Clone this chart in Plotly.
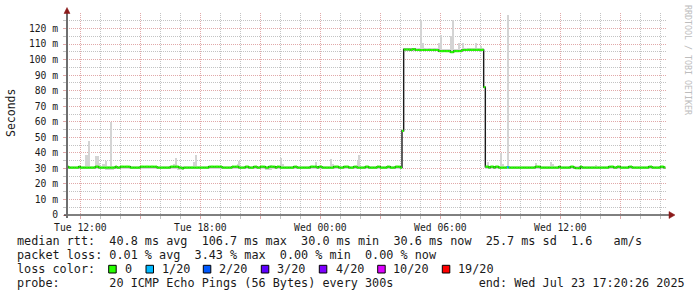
import datetime as dt
import plotly.graph_objects as go

# ---------------- data ----------------
START = "2025-07-22 11:20:00"
STEP_MIN = 5
RANGE_HOURS = 30

MEDIAN = [
    31.1, 30.5, 30.5, 30.5, 30.5, 30.5, 30.5, 31.1, 30.5, 30.5, 30.5, 30.5,
    30.5, 30.5, 30.5, 30.5, 30.5, 31.1, 31.1, 30.5, 30.5, 30.5, 30.5, 30.5,
    30.5, 30.5, 30.5, 30.5, 30.5, 31.1, 30.5, 30.5, 31.1, 31.1, 31.1, 31.1,
    31.1, 31.1, 30.5, 30.5, 30.5, 30.5, 30.5, 30.5, 31.1, 31.1, 31.1, 31.1,
    31.1, 31.1, 31.1, 31.1, 31.1, 31.1, 30.5, 30.5, 30.5, 30.5, 30.5, 30.5,
    30.5, 30.5, 31.1, 31.1, 31.1, 31.1, 31.1, 30.5, 30.5, 30.0, 30.5, 30.5,
    30.5, 30.5, 30.5, 30.5, 30.5, 30.5, 30.5, 30.5, 30.5, 30.5, 30.5, 30.5,
    30.5, 31.1, 31.1, 31.1, 31.1, 31.1, 31.1, 31.1, 31.1, 30.5, 30.5, 30.5,
    30.5, 30.5, 30.5, 31.1, 31.1, 31.1, 31.1, 30.5, 30.5, 30.5, 30.5, 31.1,
    31.1, 30.5, 30.5, 30.5, 31.1, 31.1, 30.5, 30.5, 31.1, 31.1, 31.1, 30.5,
    30.5, 31.1, 31.1, 31.1, 31.1, 30.5, 31.1, 31.1, 30.5, 30.5, 30.5, 30.5,
    30.5, 30.5, 30.5, 30.5, 31.1, 31.1, 30.5, 30.5, 30.5, 30.5, 30.5, 30.5,
    30.5, 30.5, 31.1, 31.1, 31.1, 31.1, 30.5, 31.1, 31.1, 30.5, 30.5, 30.5,
    30.5, 30.5, 30.5, 30.5, 31.1, 31.1, 31.1, 30.5, 30.5, 30.5, 31.1, 31.1,
    31.1, 30.5, 30.5, 30.5, 31.1, 31.1, 30.5, 30.5, 30.5, 30.5, 30.5, 31.1,
    31.1, 30.5, 30.5, 30.5, 30.5, 30.5, 31.1, 31.1, 30.5, 30.5, 30.5, 30.5,
    31.1, 31.1, 30.5, 30.5, 30.5, 31.1, 31.1, 31.1, 30.5, 54.2, 106.5, 106.5,
    106.5, 106.5, 106.2, 106.7, 106.7, 106.2, 106.2, 106.2, 106.2, 106.2, 106.2, 106.2,
    106.2, 106.2, 106.2, 106.2, 106.2, 106.2, 106.2, 105.5, 105.5, 105.5, 105.5, 105.5,
    105.5, 105.5, 104.8, 104.8, 105.5, 105.5, 105.5, 105.5, 105.5, 106.2, 106.2, 106.2,
    106.3, 106.3, 106.3, 106.3, 106.3, 106.3, 106.3, 106.3, 106.3, 106.3, 82.3, 31.1,
    31.1, 30.5, 31.1, 31.1, 30.5, 31.1, 31.1, 30.5, 30.5, 30.5, 30.5, 30.5,
    30.8, 30.5, 30.5, 30.5, 30.5, 30.5, 30.5, 30.5, 30.5, 30.5, 30.5, 30.5,
    30.5, 30.5, 30.5, 30.5, 30.5, 31.1, 31.1, 31.1, 30.5, 30.5, 30.5, 30.5,
    30.5, 30.5, 30.5, 30.5, 30.5, 30.5, 30.5, 31.1, 30.5, 30.5, 30.5, 30.5,
    30.5, 30.5, 31.1, 31.1, 30.5, 30.1, 30.1, 30.1, 31.1, 30.5, 30.5, 30.5,
    30.5, 30.5, 30.5, 30.5, 30.5, 30.5, 30.5, 30.5, 30.5, 30.5, 30.5, 30.5,
    30.5, 31.1, 31.1, 31.1, 30.5, 30.5, 31.1, 31.1, 30.5, 30.5, 30.5, 30.5,
    30.5, 31.1, 31.1, 30.5, 30.5, 30.5, 30.5, 30.5, 30.5, 30.5, 30.5, 30.5,
    30.5, 31.1, 31.1, 30.5, 30.5, 30.5, 30.5, 30.5, 31.1, 31.1, 30.6,
]

SMOKE_HI = [
    31.8, 31.8, 31.8, 31.8, 31.8, 31.8, 31.8, 31.8, 31.8, 31.8, 31.8, 38.5,
    38.5, 47.5, 31.8, 31.8, 31.8, 38.0, 38.0, 33.7, 31.8, 33.0, 33.0, 35.0,
    31.8, 31.8, 60.0, 31.8, 31.8, 31.8, 31.8, 31.8, 31.8, 31.8, 31.8, 31.8,
    31.8, 31.8, 31.8, 31.8, 31.8, 31.8, 31.8, 31.8, 31.8, 31.8, 31.8, 31.8,
    31.8, 31.8, 31.8, 31.8, 31.8, 31.8, 31.8, 31.8, 31.8, 31.8, 31.8, 31.8,
    31.8, 31.8, 31.8, 31.8, 33.0, 36.5, 31.8, 31.8, 31.8, 31.8, 31.8, 31.8,
    31.8, 31.8, 31.8, 31.8, 34.0, 38.5, 31.8, 31.8, 31.8, 31.8, 31.8, 31.8,
    31.8, 31.8, 31.8, 31.8, 31.8, 31.8, 31.8, 31.8, 31.8, 31.8, 31.8, 31.8,
    31.8, 31.8, 31.8, 31.8, 31.8, 31.8, 33.0, 35.0, 31.8, 31.8, 31.8, 31.8,
    31.8, 31.8, 31.8, 31.8, 31.8, 31.8, 31.8, 31.8, 31.8, 31.8, 31.8, 31.8,
    31.8, 31.8, 32.5, 31.8, 31.8, 31.8, 31.8, 31.8, 36.7, 33.0, 31.8, 31.8,
    31.8, 31.8, 31.8, 31.8, 31.8, 31.8, 31.8, 31.8, 31.8, 31.8, 31.8, 31.8,
    31.8, 31.8, 31.8, 31.8, 31.8, 34.0, 31.8, 31.8, 31.8, 31.8, 31.8, 31.8,
    31.8, 31.8, 36.0, 33.0, 31.8, 31.8, 31.8, 31.8, 31.8, 31.8, 31.8, 31.8,
    31.8, 31.8, 31.8, 31.8, 31.8, 31.8, 35.0, 38.5, 31.8, 31.8, 31.8, 31.8,
    31.8, 31.8, 31.8, 31.8, 31.8, 31.8, 31.8, 31.8, 31.8, 31.8, 31.8, 31.8,
    31.8, 31.8, 31.8, 31.8, 31.8, 31.8, 31.8, 31.8, 31.8, 54.8, 107.4, 107.4,
    107.4, 107.4, 107.4, 107.4, 107.4, 107.4, 107.4, 107.4, 125.5, 111.0, 107.4, 107.4,
    107.4, 107.4, 107.4, 107.4, 107.4, 107.4, 107.4, 110.5, 115.8, 107.0, 107.0, 107.0,
    107.0, 107.0, 115.0, 125.5, 107.0, 107.0, 107.0, 110.6, 107.0, 110.6, 107.4, 107.4,
    107.4, 107.4, 107.4, 107.4, 107.4, 110.6, 107.4, 107.4, 108.7, 107.4, 82.9, 31.8,
    34.0, 31.8, 31.8, 31.8, 31.8, 31.8, 31.8, 31.8, 40.0, 33.0, 31.8, 31.8,
    128.7, 31.8, 31.8, 31.8, 31.8, 31.8, 31.8, 31.8, 31.8, 31.8, 31.8, 31.8,
    31.8, 31.8, 31.8, 31.8, 31.8, 33.5, 31.8, 31.8, 31.8, 31.8, 31.8, 31.8,
    31.8, 31.8, 34.0, 33.0, 31.8, 31.8, 31.8, 31.8, 31.8, 31.8, 31.8, 31.8,
    31.8, 31.8, 31.8, 31.8, 31.8, 31.8, 31.8, 31.8, 31.8, 31.8, 31.8, 31.8,
    31.8, 31.8, 31.8, 31.8, 31.8, 32.5, 31.8, 31.8, 31.8, 31.8, 31.8, 31.8,
    31.8, 31.8, 31.8, 31.8, 31.8, 31.8, 31.8, 31.8, 31.8, 31.8, 31.8, 31.8,
    31.8, 31.8, 31.8, 31.8, 31.8, 31.8, 31.8, 31.8, 31.8, 31.8, 31.8, 31.8,
    31.8, 31.8, 31.8, 31.8, 31.8, 31.8, 31.8, 31.8, 31.8, 31.8, 31.8,
]

SMOKE_LO = [
    29.9, 29.9, 29.9, 29.9, 29.9, 29.9, 29.9, 29.9, 29.9, 29.9, 29.9, 29.9,
    29.9, 29.9, 29.9, 29.9, 29.9, 29.9, 29.9, 29.9, 29.9, 29.9, 29.9, 29.2,
    29.2, 29.2, 29.2, 29.2, 29.9, 29.9, 29.9, 29.9, 29.9, 29.9, 29.9, 29.9,
    29.9, 29.9, 29.9, 29.9, 29.9, 29.9, 29.9, 29.9, 29.9, 29.9, 29.9, 29.9,
    29.9, 29.9, 29.9, 29.9, 29.9, 29.9, 29.9, 29.9, 29.9, 29.9, 29.9, 29.9,
    29.9, 29.9, 29.9, 29.9, 29.9, 29.9, 29.0, 29.0, 29.0, 29.0, 29.9, 29.9,
    29.9, 29.9, 29.9, 29.9, 29.9, 29.9, 29.9, 29.9, 29.9, 29.9, 29.9, 29.9,
    29.9, 29.9, 29.9, 29.9, 29.9, 29.9, 29.9, 29.9, 29.9, 29.9, 29.9, 29.9,
    29.9, 29.9, 29.9, 29.9, 29.9, 29.9, 29.9, 29.9, 29.9, 29.9, 29.9, 29.9,
    29.9, 29.9, 29.9, 29.9, 29.9, 29.9, 29.9, 29.9, 29.9, 29.9, 29.9, 29.0,
    29.0, 29.0, 29.0, 29.9, 29.9, 29.9, 29.9, 29.9, 29.9, 29.9, 29.9, 29.9,
    29.9, 29.9, 29.9, 29.9, 29.9, 29.9, 29.9, 29.9, 29.9, 29.9, 29.9, 29.9,
    29.9, 29.9, 29.9, 29.9, 29.9, 29.9, 29.9, 29.9, 29.9, 29.9, 29.9, 29.9,
    29.9, 29.9, 29.9, 29.9, 29.9, 29.9, 29.9, 29.9, 29.9, 29.9, 29.9, 29.9,
    29.9, 29.9, 29.9, 29.9, 29.9, 29.9, 29.9, 29.9, 29.9, 29.9, 29.9, 29.9,
    29.9, 29.9, 29.9, 29.9, 29.9, 29.9, 29.9, 29.9, 29.9, 29.9, 29.9, 29.9,
    29.9, 29.9, 29.9, 29.9, 29.9, 29.9, 29.9, 29.9, 29.9, 53.8, 105.4, 105.4,
    105.4, 105.4, 105.4, 105.4, 105.4, 105.4, 105.4, 105.4, 105.4, 105.4, 105.4, 105.4,
    105.4, 105.4, 105.4, 105.4, 105.4, 105.4, 105.4, 104.6, 104.6, 104.6, 104.6, 104.6,
    104.6, 104.6, 104.0, 104.0, 104.6, 104.6, 104.6, 104.6, 104.6, 105.4, 105.4, 105.4,
    105.4, 105.4, 105.4, 105.4, 105.4, 105.4, 105.4, 105.4, 105.4, 105.4, 81.8, 29.9,
    29.9, 29.9, 29.9, 29.9, 29.9, 29.9, 29.9, 29.9, 29.9, 29.9, 29.9, 29.9,
    29.9, 29.9, 29.9, 29.9, 29.9, 29.9, 29.9, 29.9, 29.9, 29.9, 29.9, 29.9,
    29.9, 29.9, 29.9, 29.9, 29.9, 29.9, 29.9, 29.9, 29.9, 29.9, 29.9, 29.9,
    29.9, 29.9, 29.9, 29.9, 29.9, 29.3, 29.9, 29.9, 29.9, 29.9, 29.9, 29.9,
    29.9, 29.9, 29.9, 29.9, 29.9, 29.4, 29.4, 29.4, 29.9, 29.9, 29.9, 29.9,
    29.9, 29.9, 29.9, 29.9, 29.9, 29.9, 29.9, 29.9, 29.9, 29.9, 29.9, 29.9,
    29.9, 29.9, 29.9, 29.9, 29.9, 29.9, 29.9, 29.9, 29.9, 29.9, 29.9, 29.9,
    29.9, 29.9, 29.9, 29.9, 29.9, 29.9, 29.9, 29.9, 29.9, 29.9, 29.9, 29.9,
    29.9, 29.9, 29.9, 29.9, 29.9, 29.9, 29.9, 29.9, 29.9, 29.9, 29.9,
]

# steps with packet loss (pings lost out of 20)
LOSS_STEP = [264]
LOSS_PINGS = [1]

LOSS_LABELS = ["0", "1/20", "2/20", "3/20", "4/20", "10/20", "19/20"]
LOSS_THRESH = [0, 1, 2, 3, 4, 10, 19]
LOSS_COLORS = ["#26ff00", "#00b8ff", "#0059ff", "#5e00ff", "#7e00ff", "#dd00ff", "#ff0000"]

Y_TICKS = [0, 10, 20, 30, 40, 50, 60, 70, 80, 90, 100, 110, 120]
Y_TICK_TEXT = ["0", "10 m", "20 m", "30 m", "40 m", "50 m", "60 m", "70 m",
               "80 m", "90 m", "100 m", "110 m", "120 m"]
X_TICK_TEXT = ["Tue 12:00", "", "Tue 18:00", "", "Wed 00:00", "", "Wed 06:00", "", "Wed 12:00", ""]

ROW1 = "median rtt:  40.8 ms avg  106.7 ms max  30.0 ms min  30.6 ms now  25.7 ms sd  1.6   am/s"
ROW2 = "packet loss: 0.01 % avg  3.43 % max  0.00 % min  0.00 % now"
ROW3 = "loss color:"
ROW4 = "probe:       20 ICMP Echo Pings (56 Bytes) every 300s            end: Wed Jul 23 17:20:26 2025"
Y_TITLE = "Seconds"
WATERMARK = "RRDTOOL / TOBI OETIKER"

# ---------------- layout helpers ----------------
W, H = 697, 297
ML, MR, MT, MB = 67, 30, 13, 82
PW = W - ML - MR
PH = H - MT - MB
MONO = "DejaVu Sans Mono"


def px(x):
    return (x - ML) / PW


def py(y):
    return (H - MB - y) / PH


t0 = dt.datetime.fromisoformat(START)
step = dt.timedelta(minutes=STEP_MIN)
n = len(MEDIAN)
edges = [t0 + i * step for i in range(n + 1)]
centers = [t0 + (i + 0.5) * step for i in range(n)]
t_end = t0 + dt.timedelta(hours=RANGE_HOURS)

fig = go.Figure()

# smoke
fig.add_trace(go.Bar(
    x=centers, y=[h - l for h, l in zip(SMOKE_HI, SMOKE_LO)], base=SMOKE_LO,
    width=step.total_seconds() * 1000,
    marker=dict(color="#d4d4d4", line=dict(width=0)),
    hoverinfo="skip", showlegend=False,
))

# dark median step line
fig.add_trace(go.Scatter(
    x=edges, y=MEDIAN + [MEDIAN[-1]], mode="lines",
    line=dict(color="#1a1a1a", width=1.4, shape="hv"),
    hoverinfo="skip", showlegend=False,
))

# loss-coloured median segments
loss_of = dict(zip(LOSS_STEP, LOSS_PINGS))
seg = {k: ([], []) for k in range(len(LOSS_COLORS))}
for i in range(n):
    c = loss_of.get(i, 0)
    k = max(j for j, t in enumerate(LOSS_THRESH) if c >= t)
    xs, ys = seg[k]
    xs += [edges[i], edges[i + 1], None]
    ys += [MEDIAN[i], MEDIAN[i], None]
for k, (xs, ys) in seg.items():
    if xs:
        fig.add_trace(go.Scatter(
            x=xs, y=ys, mode="lines",
            line=dict(color=LOSS_COLORS[k], width=2.2),
            hoverinfo="skip", showlegend=False,
        ))

# grid positions
major_x = [dt.datetime(2025, 7, 22, 12) + dt.timedelta(hours=3 * k) for k in range(len(X_TICK_TEXT))]
minor_x = []
h = dt.datetime(2025, 7, 22, 12)
while h < t_end:
    if h not in major_x:
        minor_x.append(h)
    h += dt.timedelta(hours=1)
minor_y = [v + 5 for v in Y_TICKS]

MAJ = "rgba(215,140,140,0.75)"
MIN = "rgba(175,175,175,0.75)"

fig.update_layout(
    width=W, height=H,
    margin=dict(l=ML, r=MR, t=MT, b=MB, pad=0),
    paper_bgcolor="white", plot_bgcolor="white",
    bargap=0, hovermode=False,
    font=dict(family=MONO, color="#1a1a1a"),
    xaxis=dict(
        type="date", range=[t0, t_end],
        tickmode="array", tickvals=major_x, ticktext=X_TICK_TEXT,
        showgrid=True, gridcolor=MAJ, griddash="1px,1px", gridwidth=1,
        ticks="outside", ticklen=3, tickcolor=MAJ,
        tickfont=dict(family=MONO, size=9.7, color="#1a1a1a"),
        ticklabelstandoff=0,
        minor=dict(tickvals=minor_x, showgrid=True, gridcolor=MIN, griddash="1px,1px",
                   gridwidth=1, ticks="outside", ticklen=3, tickcolor=MIN),
        showline=False, zeroline=False, fixedrange=True,
    ),
    yaxis=dict(
        range=[0, 130],
        tickmode="array", tickvals=Y_TICKS, ticktext=Y_TICK_TEXT,
        showgrid=True, gridcolor=MAJ, griddash="1px,1px", gridwidth=1,
        ticks="outside", ticklen=3, tickcolor=MAJ,
        tickfont=dict(family=MONO, size=9.7, color="#1a1a1a"),
        ticklabelstandoff=3,
        minor=dict(tickvals=minor_y, showgrid=True, gridcolor=MIN, griddash="1px,1px",
                   gridwidth=1, ticks="outside", ticklen=3, tickcolor=MIN),
        showline=False, zeroline=False, fixedrange=True,
    ),
)

shapes = []
# axis lines
shapes.append(dict(type="line", xref="paper", yref="paper",
                   x0=px(64), x1=px(670), y0=py(215), y1=py(215),
                   line=dict(color="#000000", width=1)))
shapes.append(dict(type="line", xref="paper", yref="paper",
                   x0=px(67), x1=px(67), y0=py(218), y1=py(12),
                   line=dict(color="#6e6e6e", width=2)))
# arrows
shapes.append(dict(type="path", xref="paper", yref="paper",
                   path=f"M {px(64)},{py(13.5)} L {px(70)},{py(13.5)} L {px(67)},{py(7.5)} Z",
                   fillcolor="#8b1a1a", line=dict(color="#8b1a1a", width=0.5)))
shapes.append(dict(type="path", xref="paper", yref="paper",
                   path=f"M {px(669)},{py(211.5)} L {px(669)},{py(218.5)} L {px(675)},{py(215)} Z",
                   fillcolor="#8b1a1a", line=dict(color="#8b1a1a", width=0.5)))

# loss legend squares and labels
SQ_X = [108.7, 146.0, 203.3, 261.3, 319.3, 377.7, 442.3]
LB_X = [124.0, 160.7, 218.0, 276.0, 334.7, 392.3, 457.3]
ROW_Y = [241, 255.3, 269.3, 283]
for sx, col in zip(SQ_X, LOSS_COLORS):
    shapes.append(dict(type="rect", xref="paper", yref="paper",
                       x0=px(sx), x1=px(sx + 7.5), y0=py(265.3), y1=py(273),
                       fillcolor=col, line=dict(color="#000000", width=1)))
fig.update_layout(shapes=shapes)

NB = "\u00a0"
ann = []
LEG = dict(family=MONO, size=11.8, color="#1a1a1a")
for txt, yy in zip([ROW1, ROW2, ROW3, ROW4], ROW_Y):
    ann.append(dict(text=txt.replace(" ", NB), xref="paper", yref="paper",
                    x=px(16), y=py(yy), xanchor="left", yanchor="middle",
                    showarrow=False, font=LEG, borderpad=0))
for lx, lab in zip(LB_X, LOSS_LABELS):
    ann.append(dict(text=lab, xref="paper", yref="paper",
                    x=px(lx), y=py(ROW_Y[2]), xanchor="left", yanchor="middle",
                    showarrow=False, font=LEG, borderpad=0))
ann.append(dict(text=Y_TITLE, xref="paper", yref="paper", x=px(11), y=py(113),
                xanchor="center", yanchor="middle", textangle=-90, showarrow=False,
                font=dict(family=MONO, size=11.5, color="#1a1a1a"), borderpad=0))
ann.append(dict(text=WATERMARK.replace(" ", NB), xref="paper", yref="paper", x=px(688), y=py(60),
                xanchor="center", yanchor="middle", textangle=90, showarrow=False,
                font=dict(family=MONO, size=8.3, color="#bdbdbd"), borderpad=0))
fig.update_layout(annotations=ann)

fig.write_html("out.html")
